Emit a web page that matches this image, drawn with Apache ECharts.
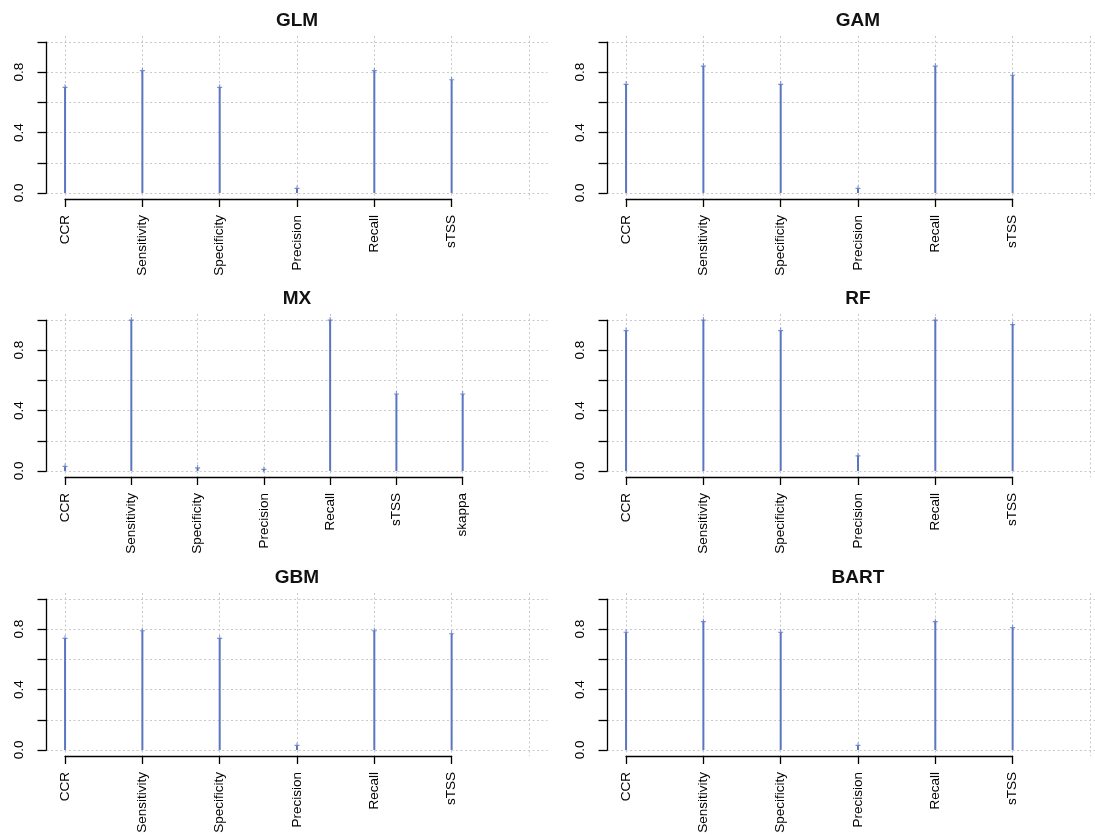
<!DOCTYPE html>
<html>
<head>
<meta charset="utf-8">
<script src="https://cdn.jsdelivr.net/npm/echarts@6/dist/echarts.min.js"></script>
<style>
html, body { margin: 0; padding: 0; background: #fff; }
#container { width: 1095px; height: 835px; }
</style>
</head>
<body>
<div id="container"></div>
<script>
var metrics = ['CCR', 'Sensitivity', 'Specificity', 'Precision', 'Recall', 'sTSS'];
var metricsMX = ['CCR', 'Sensitivity', 'Specificity', 'Precision', 'Recall', 'sTSS', 'skappa'];
var models = ['GLM', 'GAM', 'MX', 'RF', 'GBM', 'BART'];

var glm = [0.70, 0.81, 0.70, 0.03, 0.81, 0.75];
var gam = [0.72, 0.84, 0.72, 0.03, 0.84, 0.78];
var mx = [0.03, 1.00, 0.02, 0.01, 1.00, 0.51, 0.51];
var rf = [0.93, 1.00, 0.93, 0.10, 1.00, 0.97];
var gbm = [0.74, 0.79, 0.74, 0.03, 0.79, 0.77];
var bart = [0.78, 0.85, 0.78, 0.03, 0.85, 0.81];

var yTicks = [0, 0.2, 0.4, 0.6, 0.8, 1.0];
var yTickLabels = ['0.0', '', '0.4', '', '0.8', ''];

var panels = [
    { name: models[0], cats: metrics, vals: glm },
    { name: models[1], cats: metrics, vals: gam },
    { name: models[2], cats: metricsMX, vals: mx },
    { name: models[3], cats: metrics, vals: rf },
    { name: models[4], cats: metrics, vals: gbm },
    { name: models[5], cats: metrics, vals: bart }
];

var dom = document.getElementById('container');
var myChart = echarts.init(dom);

var pageW = 1095;
var colLeft = [46.5, 607.5];
var rowTop = [36, 314, 593];
var plotW = 501, plotH = 163;
var stemColor = '#5a76c1';
var font = 'Liberation Sans, Arial, sans-serif';
var gridLine = { show: true, lineStyle: { color: '#c8c8c8', type: [2, 2.5], width: 1 } };
var plus = 'path://M2,0L3,0L3,2L5,2L5,3L3,3L3,5L2,5L2,3L0,3L0,2L2,2Z';

var titles = [], grids = [], xAxes = [], yAxes = [], series = [];

panels.forEach(function (p, i) {
    var L = colLeft[i % 2];
    var T = rowTop[Math.floor(i / 2)];
    var n = p.cats.length;
    var nG = n + 1;                       // grid lines run one step past the last category
    var pad = 0.04 * (nG - 1);
    var unit = plotW / ((nG - 1) * 1.08);
    var x1 = L + pad * unit;
    var W = Math.min(plotW, pageW - L);   // right column is cut off by the page edge
    var gridX = [];
    for (var k = 1; k <= nG; k++) gridX.push(k);

    titles.push({
        text: p.name,
        left: L + plotW / 2,
        top: T - 25,
        textAlign: 'center',
        padding: 0,
        textStyle: { fontFamily: font, fontSize: 19, fontWeight: 'bold', color: '#111' }
    });

    // plot region (R style 4% padding) with dotted grid
    grids.push({ left: L, top: T, width: W, height: plotH, outerBoundsMode: 'none' });
    // y axis frame: 0..1 only
    grids.push({ left: L, top: T + 0.04 * plotH / 1.08, width: 10, height: plotH / 1.08, outerBoundsMode: 'none' });
    // x axis frame: first..last category only
    grids.push({ left: x1, top: T, width: (n - 1) * unit, height: plotH, outerBoundsMode: 'none' });

    var g = i * 3;
    xAxes.push({
        gridIndex: g, type: 'value', min: 1 - pad, max: 1 - pad + W / unit,
        axisLine: { show: false }, axisLabel: { show: false },
        axisTick: { show: false, customValues: gridX },
        splitLine: gridLine
    });
    yAxes.push({
        gridIndex: g, type: 'value', min: -0.04, max: 1.04,
        axisLine: { show: false }, axisLabel: { show: false },
        axisTick: { show: false, customValues: yTicks },
        splitLine: gridLine
    });

    xAxes.push({ gridIndex: g + 1, type: 'value', show: false });
    yAxes.push({
        gridIndex: g + 1, type: 'value', min: 0, max: 1, interval: 0.2,
        axisLine: { show: true, onZero: false, lineStyle: { color: '#000', width: 1.3 } },
        axisTick: { show: true, length: 9, lineStyle: { color: '#000', width: 1.3 } },
        axisLabel: {
            rotate: 90, margin: 20, color: '#000', fontFamily: font, fontSize: 13.5,
            formatter: function (v, idx) { return yTickLabels[idx]; }
        },
        splitLine: { show: false }
    });

    xAxes.push({
        gridIndex: g + 2, type: 'category', data: p.cats, boundaryGap: false,
        axisLine: { show: true, onZero: false, lineStyle: { color: '#000', width: 1.3 } },
        axisTick: { show: true, length: 8, interval: 0, lineStyle: { color: '#000', width: 1.3 } },
        axisLabel: { rotate: 90, interval: 0, margin: 16, color: '#000', fontFamily: font, fontSize: 13.5 },
        splitLine: { show: false }
    });
    yAxes.push({ gridIndex: g + 2, type: 'value', show: false });

    var pts = p.vals.map(function (v, k) { return [k + 1, v]; });
    series.push({
        type: 'bar', xAxisIndex: g, yAxisIndex: g, data: pts,
        barWidth: 2, silent: true, itemStyle: { color: stemColor }
    });
    series.push({
        type: 'scatter', xAxisIndex: g, yAxisIndex: g, data: pts,
        symbol: plus, symbolSize: [5, 6], silent: true, itemStyle: { color: stemColor }
    });
});

var option = {
    backgroundColor: '#fff',
    animation: false,
    title: titles,
    grid: grids,
    xAxis: xAxes,
    yAxis: yAxes,
    series: series
};

myChart.setOption(option);
</script>
</body>
</html>
